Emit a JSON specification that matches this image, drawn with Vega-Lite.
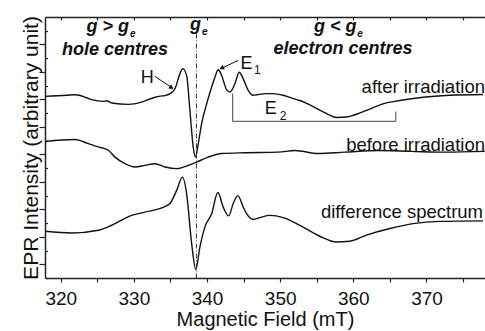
{
  "$schema": "https://vega.github.io/schema/vega-lite/v6.json",
  "width": 440,
  "height": 261,
  "autosize": {"type": "none"},
  "padding": {"left": 45, "top": 17, "right": 0, "bottom": 53},
  "background": "white",
  "config": {
    "view": {"stroke": null},
    "axis": {
      "labelFont": "Liberation Sans", "titleFont": "Liberation Sans",
      "labelColor": "#111", "titleColor": "#111", "titleFontWeight": "normal",
      "domainColor": "#222", "tickColor": "#222", "domainWidth": 1.5, "tickWidth": 1.2, "grid": false
    },
    "text": {"font": "Liberation Sans", "color": "#111", "baseline": "alphabetic"}
  },
  "datasets": {
    "curves": [
      {"f": 317.86, "v": 7.11, "s": "after"}, {"f": 320.82, "v": 7.15, "s": "after"}, {"f": 321.95, "v": 7.17, "s": "after"},
      {"f": 323.55, "v": 7.06, "s": "after"}, {"f": 324.23, "v": 6.99, "s": "after"}, {"f": 325.82, "v": 6.93, "s": "after"},
      {"f": 326.28, "v": 6.95, "s": "after"}, {"f": 326.97, "v": 6.87, "s": "after"}, {"f": 329.23, "v": 6.82, "s": "after"},
      {"f": 331.07, "v": 6.90, "s": "after"}, {"f": 332.88, "v": 7.08, "s": "after"}, {"f": 333.6, "v": 7.12, "s": "after"},
      {"f": 334.25, "v": 7.14, "s": "after"}, {"f": 334.93, "v": 7.21, "s": "after"}, {"f": 335.62, "v": 7.39, "s": "after"},
      {"f": 336.3, "v": 7.94, "s": "after"}, {"f": 336.67, "v": 8.12, "s": "after"}, {"f": 337.21, "v": 7.87, "s": "after"},
      {"f": 337.66, "v": 6.6, "s": "after"}, {"f": 338.11, "v": 5.27, "s": "after"}, {"f": 338.41, "v": 4.9, "s": "after"},
      {"f": 338.8, "v": 5.39, "s": "after"}, {"f": 339.26, "v": 6.12, "s": "after"}, {"f": 339.95, "v": 6.84, "s": "after"},
      {"f": 340.63, "v": 7.45, "s": "after"}, {"f": 341.08, "v": 7.81, "s": "after"}, {"f": 341.53, "v": 8.08, "s": "after"},
      {"f": 342.0, "v": 7.87, "s": "after"}, {"f": 342.68, "v": 7.35, "s": "after"}, {"f": 343.13, "v": 7.27, "s": "after"},
      {"f": 343.81, "v": 7.57, "s": "after"}, {"f": 344.4, "v": 7.99, "s": "after"}, {"f": 344.95, "v": 7.75, "s": "after"},
      {"f": 345.63, "v": 7.33, "s": "after"}, {"f": 346.31, "v": 7.15, "s": "after"}, {"f": 347.0, "v": 7.18, "s": "after"},
      {"f": 348.14, "v": 7.21, "s": "after"}, {"f": 349.04, "v": 7.21, "s": "after"}, {"f": 350.41, "v": 7.15, "s": "after"},
      {"f": 351.78, "v": 7.03, "s": "after"}, {"f": 352.69, "v": 6.96, "s": "after"}, {"f": 353.61, "v": 6.86, "s": "after"},
      {"f": 355.87, "v": 6.55, "s": "after"}, {"f": 357.7, "v": 6.34, "s": "after"}, {"f": 359.29, "v": 6.37, "s": "after"},
      {"f": 361.8, "v": 6.6, "s": "after"}, {"f": 364.07, "v": 6.84, "s": "after"}, {"f": 366.35, "v": 6.96, "s": "after"},
      {"f": 369.54, "v": 7.08, "s": "after"}, {"f": 373.18, "v": 7.15, "s": "after"}, {"f": 377.73, "v": 7.18, "s": "after"},

      {"f": 317.86, "v": 5.47, "s": "before"}, {"f": 321.95, "v": 5.54, "s": "before"}, {"f": 323.77, "v": 5.39, "s": "before"},
      {"f": 325.14, "v": 5.27, "s": "before"}, {"f": 326.5, "v": 5.15, "s": "before"}, {"f": 327.42, "v": 4.9, "s": "before"},
      {"f": 328.78, "v": 4.66, "s": "before"}, {"f": 330.15, "v": 4.54, "s": "before"}, {"f": 331.52, "v": 4.6, "s": "before"},
      {"f": 332.88, "v": 4.66, "s": "before"}, {"f": 334.25, "v": 4.54, "s": "before"}, {"f": 335.85, "v": 4.48, "s": "before"},
      {"f": 337.43, "v": 4.6, "s": "before"}, {"f": 338.58, "v": 4.72, "s": "before"}, {"f": 340.16, "v": 4.9, "s": "before"},
      {"f": 341.99, "v": 5.03, "s": "before"}, {"f": 345.18, "v": 5.06, "s": "before"}, {"f": 349.73, "v": 5.08, "s": "before"},
      {"f": 352.01, "v": 5.14, "s": "before"}, {"f": 355.19, "v": 5.03, "s": "before"}, {"f": 358.84, "v": 5.08, "s": "before"},
      {"f": 363.39, "v": 5.14, "s": "before"}, {"f": 367.95, "v": 5.11, "s": "before"}, {"f": 372.5, "v": 5.08, "s": "before"},
      {"f": 377.96, "v": 5.11, "s": "before"},

      {"f": 317.86, "v": 2.2, "s": "diff"}, {"f": 321.5, "v": 2.14, "s": "diff"}, {"f": 325.14, "v": 2.24, "s": "diff"},
      {"f": 326.97, "v": 2.42, "s": "diff"}, {"f": 329.7, "v": 2.78, "s": "diff"}, {"f": 331.52, "v": 2.9, "s": "diff"},
      {"f": 333.8, "v": 3.05, "s": "diff"}, {"f": 334.93, "v": 3.21, "s": "diff"}, {"f": 335.85, "v": 3.69, "s": "diff"},
      {"f": 336.64, "v": 4.17, "s": "diff"}, {"f": 337.21, "v": 3.57, "s": "diff"}, {"f": 337.9, "v": 1.75, "s": "diff"},
      {"f": 338.46, "v": 0.81, "s": "diff"}, {"f": 339.03, "v": 1.63, "s": "diff"}, {"f": 339.71, "v": 2.36, "s": "diff"},
      {"f": 340.63, "v": 2.84, "s": "diff"}, {"f": 341.48, "v": 3.61, "s": "diff"}, {"f": 342.21, "v": 3.08, "s": "diff"},
      {"f": 342.96, "v": 2.76, "s": "diff"}, {"f": 343.58, "v": 3.21, "s": "diff"}, {"f": 344.22, "v": 3.5, "s": "diff"},
      {"f": 344.95, "v": 3.08, "s": "diff"}, {"f": 345.41, "v": 2.84, "s": "diff"}, {"f": 346.31, "v": 2.63, "s": "diff"},
      {"f": 347.23, "v": 2.7, "s": "diff"}, {"f": 348.59, "v": 2.78, "s": "diff"}, {"f": 350.41, "v": 2.7, "s": "diff"},
      {"f": 352.69, "v": 2.42, "s": "diff"}, {"f": 355.42, "v": 2.02, "s": "diff"}, {"f": 357.7, "v": 1.81, "s": "diff"},
      {"f": 359.52, "v": 1.84, "s": "diff"}, {"f": 361.8, "v": 2.06, "s": "diff"}, {"f": 364.99, "v": 2.3, "s": "diff"},
      {"f": 368.17, "v": 2.48, "s": "diff"}, {"f": 371.82, "v": 2.56, "s": "diff"}, {"f": 377.73, "v": 2.58, "s": "diff"}
    ],
    "ge": [{"x": 338.55, "y": 9.4, "y2": 0.5}],
    "bracket": [
      {"x": 343.5, "x2": 365.8, "y": 6.2, "y2": 6.2},
      {"x": 343.5, "x2": 343.5, "y": 6.2, "y2": 7.22},
      {"x": 365.8, "x2": 365.8, "y": 6.2, "y2": 6.56}
    ],
    "arrows": [
      {"x": 332.88, "y": 7.84, "x2": 335.0, "y2": 7.46},
      {"x": 344.26, "y": 8.42, "x2": 342.2, "y2": 8.16}
    ],
    "headH": [{"x": 335.16, "y": 7.43}],
    "headE": [{"x": 342.0, "y": 8.14}],
    "boldRight": [
      {"x": 329.33, "y": 9.45, "t": "g > g"},
      {"x": 339.17, "y": 9.51, "t": "g"},
      {"x": 360.43, "y": 9.45, "t": "g < g"}
    ],
    "boldCenter": [
      {"x": 327.42, "y": 8.62, "t": "hole centres"},
      {"x": 358.6, "y": 8.64, "t": "electron centres"}
    ],
    "boldSub": [
      {"x": 329.47, "y": 9.29, "t": "e"},
      {"x": 339.3, "y": 9.35, "t": "e"},
      {"x": 360.55, "y": 9.29, "t": "e"}
    ],
    "bigLetters": [
      {"x": 330.95, "y": 7.59, "t": "H"},
      {"x": 344.56, "y": 8.116, "t": "E"},
      {"x": 347.9, "y": 6.48, "t": "E"}
    ],
    "subDigits": [
      {"x": 346.41, "y": 7.91, "t": "1"},
      {"x": 349.95, "y": 6.24, "t": "2"}
    ],
    "series": [
      {"x": 378.0, "y": 7.23, "t": "after irradiation"},
      {"x": 378.0, "y": 5.12, "t": "before irradiation"},
      {"x": 377.73, "y": 2.684, "t": "difference spectrum"}
    ]
  },
  "layer": [
    {
      "data": {"name": "curves"},
      "mark": {"type": "line", "color": "#111", "strokeWidth": 1.4, "interpolate": "monotone"},
      "encoding": {
        "x": {"field": "f", "type": "quantitative",
          "scale": {"domain": [317.85, 378], "nice": false, "zero": false},
          "axis": {"orient": "bottom", "values": [320, 325, 330, 335, 340, 345, 350, 355, 360, 365, 370, 375],
            "labelExpr": "datum.value % 10 === 0 ? datum.label : ''", "labelFontSize": 19, "labelPadding": 7,
            "tickSize": 4, "title": "Magnetic Field (mT)", "titleFontSize": 20, "titlePadding": 1}},
        "y": {"field": "v", "type": "quantitative",
          "scale": {"domain": [0.5, 10], "nice": false, "zero": false},
          "axis": {"orient": "left", "values": [1, 2, 3, 4, 5, 6, 7, 8, 9], "labels": false, "tickSize": 6,
            "title": "EPR Intensity (arbitrary unit)", "titleFontSize": 21, "titlePadding": -3}},
        "detail": {"field": "s"}
      }
    },
    {
      "data": {"name": "ge"},
      "mark": {"type": "rule", "color": "#333", "strokeWidth": 1, "strokeDash": [5, 2, 1, 2]},
      "encoding": {
        "x": {"field": "x", "type": "quantitative",
          "axis": {"orient": "top", "values": [320, 325, 330, 335, 340, 345, 350, 355, 360, 365, 370, 375],
            "labels": false, "domain": true, "domainWidth": 1.5, "tickSize": -3, "title": null}},
        "y": {"field": "y", "type": "quantitative",
          "axis": {"orient": "left", "values": [0.5, 1.5, 2.5, 3.5, 4.5, 5.5, 6.5, 7.5, 8.5, 9.5],
            "labels": false, "domain": false, "tickSize": -2.5, "title": null}},
        "y2": {"field": "y2"}
      }
    },
    {
      "data": {"name": "bracket"},
      "mark": {"type": "rule", "color": "#666", "strokeWidth": 1.2},
      "encoding": {
        "x": {"field": "x", "type": "quantitative", "axis": null},
        "x2": {"field": "x2"},
        "y": {"field": "y", "type": "quantitative", "axis": null},
        "y2": {"field": "y2"}
      }
    },
    {
      "data": {"name": "arrows"},
      "mark": {"type": "rule", "color": "#111", "strokeWidth": 1},
      "encoding": {
        "x": {"field": "x", "type": "quantitative", "axis": null},
        "x2": {"field": "x2"},
        "y": {"field": "y", "type": "quantitative", "axis": null},
        "y2": {"field": "y2"}
      }
    },
    {
      "data": {"name": "headH"},
      "mark": {"type": "point", "shape": "triangle-up", "filled": true, "color": "#111", "size": 28, "angle": 124, "opacity": 1},
      "encoding": {
        "x": {"field": "x", "type": "quantitative", "axis": null},
        "y": {"field": "y", "type": "quantitative", "axis": null}
      }
    },
    {
      "data": {"name": "headE"},
      "mark": {"type": "point", "shape": "triangle-up", "filled": true, "color": "#111", "size": 28, "angle": 245, "opacity": 1},
      "encoding": {
        "x": {"field": "x", "type": "quantitative", "axis": null},
        "y": {"field": "y", "type": "quantitative", "axis": null}
      }
    },
    {
      "data": {"name": "boldRight"},
      "mark": {"type": "text", "align": "right", "fontSize": 18, "fontWeight": "bold", "fontStyle": "italic"},
      "encoding": {
        "x": {"field": "x", "type": "quantitative", "axis": null},
        "y": {"field": "y", "type": "quantitative", "axis": null},
        "text": {"field": "t"}
      }
    },
    {
      "data": {"name": "boldCenter"},
      "mark": {"type": "text", "align": "center", "fontSize": 18, "fontWeight": "bold", "fontStyle": "italic"},
      "encoding": {
        "x": {"field": "x", "type": "quantitative", "axis": null},
        "y": {"field": "y", "type": "quantitative", "axis": null},
        "text": {"field": "t"}
      }
    },
    {
      "data": {"name": "boldSub"},
      "mark": {"type": "text", "align": "left", "fontSize": 10, "fontWeight": "bold", "fontStyle": "italic"},
      "encoding": {
        "x": {"field": "x", "type": "quantitative", "axis": null},
        "y": {"field": "y", "type": "quantitative", "axis": null},
        "text": {"field": "t"}
      }
    },
    {
      "data": {"name": "bigLetters"},
      "mark": {"type": "text", "align": "left", "fontSize": 18},
      "encoding": {
        "x": {"field": "x", "type": "quantitative", "axis": null},
        "y": {"field": "y", "type": "quantitative", "axis": null},
        "text": {"field": "t"}
      }
    },
    {
      "data": {"name": "subDigits"},
      "mark": {"type": "text", "align": "left", "fontSize": 12},
      "encoding": {
        "x": {"field": "x", "type": "quantitative", "axis": null},
        "y": {"field": "y", "type": "quantitative", "axis": null},
        "text": {"field": "t"}
      }
    },
    {
      "data": {"name": "series"},
      "mark": {"type": "text", "align": "right", "fontSize": 18.5},
      "encoding": {
        "x": {"field": "x", "type": "quantitative", "axis": null},
        "y": {"field": "y", "type": "quantitative", "axis": null},
        "text": {"field": "t"}
      }
    }
  ],
  "resolve": {"axis": {"x": "independent", "y": "independent"}}
}
